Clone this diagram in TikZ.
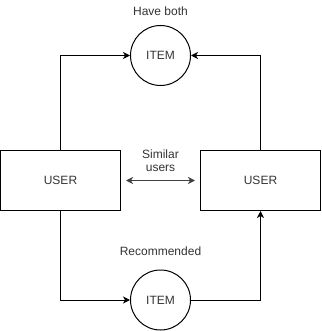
\documentclass[tikz,border=0pt]{standalone}
\usepackage{fontspec}
\setmainfont{Liberation Sans}
\usetikzlibrary{arrows.meta}
\definecolor{txt}{HTML}{333333}
\begin{document}
\begin{tikzpicture}[x=1pt,y=-1pt,
  font=\fontsize{12pt}{14pt}\selectfont,
  userbox/.style={draw=black,line width=1pt,minimum width=120pt,minimum height=60pt,inner sep=0pt,text=txt},
  itemnode/.style={draw=black,line width=1pt,circle,minimum size=60pt,inner sep=0pt,text=txt},
  lbl/.style={text=txt,align=center,inner sep=0pt},
  link/.style={line width=1pt,-{Stealth[length=7pt,width=7pt,inset=2pt]}},
  both/.style={line width=1.3pt,draw=black!75,{Stealth[length=7pt,width=7pt,inset=2pt]}-{Stealth[length=7pt,width=7pt,inset=2pt]},shorten <=5pt,shorten >=5pt}]
  \useasboundingbox (0,0) rectangle (321,331);
  % users
  \node[userbox] (ul) at (60.5,180.5) {USER};
  \node[userbox] (ur) at (260.5,180.5) {USER};
  % items
  \node[itemnode] (it1) at (160.5,55.5) {ITEM};
  \node[itemnode] (it2) at (160.5,300) {ITEM};
  % labels
  \node[lbl] (hb) at (160.5,11) {Have both};
  \node[lbl] (rc) at (160.5,251) {Recommended};
  \node[lbl,font=\fontsize{12pt}{13pt}\selectfont] (su) at (160.5,161) {Similar\\users};
  % connectors
  \draw[link] (ul.north) |- (it1.west);
  \draw[link] (ur.north) |- (it1.east);
  \draw[link] (ul.south) |- (it2.west);
  \draw[link] (it2.east) -| (ur.south);
  \draw[both] (ul.east) -- (ur.west);
\end{tikzpicture}
\end{document}
